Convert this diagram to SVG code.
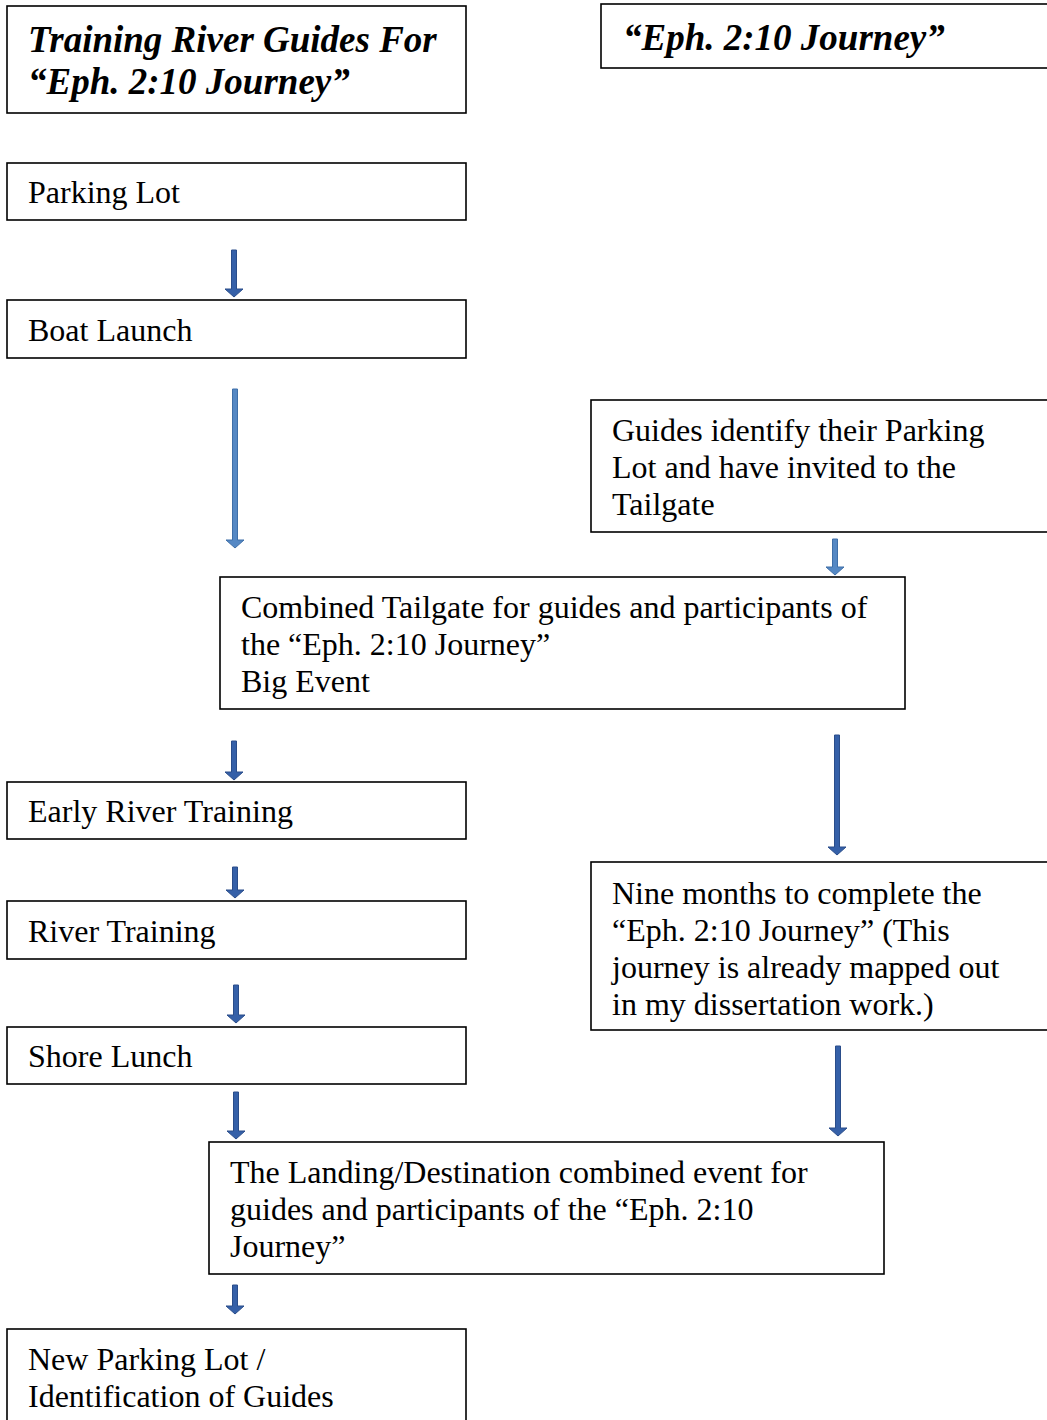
<svg xmlns="http://www.w3.org/2000/svg" width="1047" height="1420" viewBox="0 0 1047 1420">
<style>
.box{fill:#fff;stroke:#000;stroke-width:1.6}
.t{font-family:"Liberation Serif","Times New Roman",serif;font-size:32px;fill:#000}
.h{font-family:"Liberation Serif","Times New Roman",serif;font-size:37px;font-weight:bold;font-style:italic;fill:#000}
.ad{fill:#3560a8;stroke:#2a4d8a;stroke-width:1}
.al{fill:#5588c4;stroke:#3f6fa8;stroke-width:1}
</style>
<rect width="1047" height="1420" fill="#fff"/>
<g id="title">
<rect class="box" x="7" y="6" width="459" height="107"/>
<text class="h" x="28" y="52">Training River Guides For</text>
<text class="h" x="28" y="94">“Eph. 2:10 Journey”</text>
</g>
<g id="title-right">
<rect class="box" x="601" y="4" width="460" height="64"/>
<text class="h" x="623" y="50">“Eph. 2:10 Journey”</text>
</g>
<g id="parking-lot">
<rect class="box" x="7" y="163" width="459" height="57"/>
<text class="t" x="28" y="203">Parking Lot</text>
</g>
<g id="boat-launch">
<rect class="box" x="7" y="300" width="459" height="58"/>
<text class="t" x="28" y="341">Boat Launch</text>
</g>
<g id="guides-identify">
<rect class="box" x="591" y="400" width="470" height="132"/>
<text class="t" x="612" y="441">Guides identify their Parking</text>
<text class="t" x="612" y="478">Lot and have invited to the</text>
<text class="t" x="612" y="515">Tailgate</text>
</g>
<g id="combined-tailgate">
<rect class="box" x="220" y="577" width="685" height="132"/>
<text class="t" x="241" y="618">Combined Tailgate for guides and participants of</text>
<text class="t" x="241" y="655">the “Eph. 2:10 Journey”</text>
<text class="t" x="241" y="692">Big Event</text>
</g>
<g id="early-river-training">
<rect class="box" x="7" y="782" width="459" height="57"/>
<text class="t" x="28" y="822">Early River Training</text>
</g>
<g id="river-training">
<rect class="box" x="7" y="901" width="459" height="58"/>
<text class="t" x="28" y="942">River Training</text>
</g>
<g id="nine-months">
<rect class="box" x="591" y="862" width="470" height="168"/>
<text class="t" x="612" y="904">Nine months to complete the</text>
<text class="t" x="612" y="941">“Eph. 2:10 Journey” (This</text>
<text class="t" x="612" y="978">journey is already mapped out</text>
<text class="t" x="612" y="1015">in my dissertation work.)</text>
</g>
<g id="shore-lunch">
<rect class="box" x="7" y="1027" width="459" height="57"/>
<text class="t" x="28" y="1067">Shore Lunch</text>
</g>
<g id="landing">
<rect class="box" x="209" y="1142" width="675" height="132"/>
<text class="t" x="230" y="1183">The Landing/Destination combined event for</text>
<text class="t" x="230" y="1220">guides and participants of the “Eph. 2:10</text>
<text class="t" x="230" y="1257">Journey”</text>
</g>
<g id="new-parking-lot">
<rect class="box" x="7" y="1329" width="459" height="110"/>
<text class="t" x="28" y="1370">New Parking Lot /</text>
<text class="t" x="28" y="1407">Identification of Guides</text>
</g>
<g id="connectors">
<path class="ad" d="M231.5,250 h5 v39 h6.5 l-9,8 l-9,-8 h6.5 z"/>
<path class="al" d="M232.5,389 h5 v151 h6.5 l-9,8 l-9,-8 h6.5 z"/>
<path class="al" d="M832.5,539 h5 v28 h6.5 l-9,8 l-9,-8 h6.5 z"/>
<path class="ad" d="M834.5,735 h5 v112 h6.5 l-9,8 l-9,-8 h6.5 z"/>
<path class="ad" d="M231.5,741 h5 v31 h6.5 l-9,8 l-9,-8 h6.5 z"/>
<path class="ad" d="M232.5,867 h5 v23 h6.5 l-9,8 l-9,-8 h6.5 z"/>
<path class="ad" d="M233.5,985 h5 v30 h6.5 l-9,8 l-9,-8 h6.5 z"/>
<path class="ad" d="M233.5,1092 h5 v39 h6.5 l-9,8 l-9,-8 h6.5 z"/>
<path class="ad" d="M835.5,1046 h5 v82 h6.5 l-9,8 l-9,-8 h6.5 z"/>
<path class="ad" d="M232.5,1285 h5 v21 h6.5 l-9,8 l-9,-8 h6.5 z"/>
</g>
</svg>
